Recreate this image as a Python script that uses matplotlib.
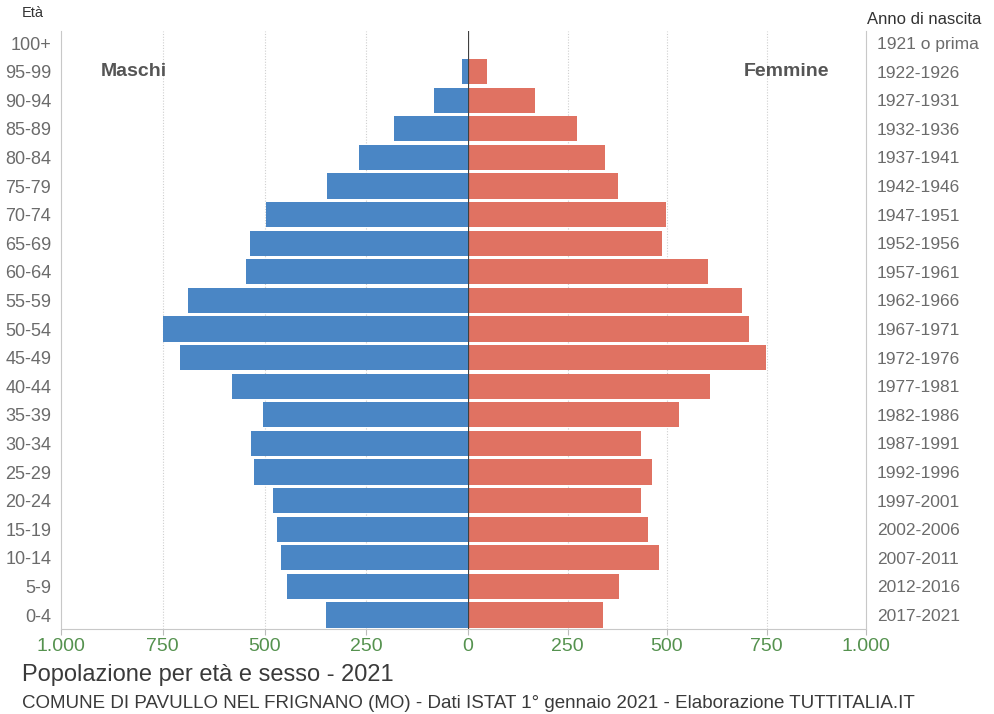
import matplotlib
matplotlib.use('Agg')
import matplotlib.pyplot as plt
from matplotlib.ticker import FixedLocator, FuncFormatter
import numpy as np

plt.rcParams['font.family'] = ['Liberation Sans', 'DejaVu Sans']

# ── Popolazione per classi di età (1° gennaio 2021) ─────────────────────────
eta = ['0-4', '5-9', '10-14', '15-19', '20-24', '25-29', '30-34', '35-39',
       '40-44', '45-49', '50-54', '55-59', '60-64', '65-69', '70-74',
       '75-79', '80-84', '85-89', '90-94', '95-99', '100+']
anno_nascita = ['2017-2021', '2012-2016', '2007-2011', '2002-2006',
                '1997-2001', '1992-1996', '1987-1991', '1982-1986',
                '1977-1981', '1972-1976', '1967-1971', '1962-1966',
                '1957-1961', '1952-1956', '1947-1951', '1942-1946',
                '1937-1941', '1932-1936', '1927-1931', '1922-1926',
                '1921 o prima']
maschi = [349, 445, 460, 469, 480, 527, 534, 504, 580, 707, 750,
          689, 545, 535, 497, 347, 268, 183, 83, 14, 0]
femmine = [338, 380, 480, 452, 435, 463, 434, 529, 608, 748, 707,
           688, 602, 487, 498, 377, 344, 275, 169, 47, 0]

BLUE = '#4a86c5'
RED = '#e07262'
GREEN = '#55924f'
GREY_TXT = '#6b6b6b'

fig = plt.figure(figsize=(9.94, 7.14), dpi=100)
W, H = 994, 714
x0, xm, x1 = 61, 468, 866
ybot, ytop = 628.5, 31
ax_m = fig.add_axes([x0 / W, 1 - ybot / H, (xm - x0) / W, (ybot - ytop) / H])
ax_f = fig.add_axes([xm / W, 1 - ybot / H, (x1 - xm) / W, (ybot - ytop) / H])

y = np.arange(len(eta))
ax_m.barh(y, maschi, height=0.88, color=BLUE, zorder=2)
ax_f.barh(y, femmine, height=0.88, color=RED, zorder=2)
ax_m.set_xlim(1000, 0)
ax_f.set_xlim(0, 1000)

fmt = FuncFormatter(lambda v, _: f'{int(v):,}'.replace(',', '.'))
for ax, ticks in ((ax_m, [1000, 750, 500, 250]), (ax_f, [0, 250, 500, 750, 1000])):
    ax.set_ylim(-0.47, len(eta) - 1 + 0.42)
    for v in (250, 500, 750):
        ax.axvline(v, color='#cfcfcf', linewidth=0.8,
                   linestyle=(0, (1, 1.5)), zorder=1)
    ax.xaxis.set_major_locator(FixedLocator(ticks))
    ax.xaxis.set_major_formatter(fmt)
    ax.tick_params(axis='x', colors='#bbbbbb', labelcolor=GREEN, labelsize=14,
                   length=4, width=0.8, pad=3)
    ax.set_facecolor('none')
    for s in ax.spines.values():
        s.set_color('#c8c8c8')
        s.set_linewidth(0.8)
    ax.spines['top'].set_visible(False)

ax_m.spines['right'].set_visible(False)
ax_f.spines['left'].set_visible(False)
ax_f.axvline(0, color='#404040', linewidth=1.6, zorder=3)

# age classes on the left, birth years on the right
ax_m.set_yticks(y)
ax_m.set_yticklabels(eta)
ax_m.tick_params(axis='y', length=0, labelsize=13, labelcolor=GREY_TXT, pad=7)
ax_f.set_yticks(y)
ax_f.set_yticklabels(anno_nascita)
ax_f.yaxis.tick_right()
ax_f.tick_params(axis='y', length=0, labelsize=12.5, labelcolor=GREY_TXT, pad=8)

ax_m.text(820, 19, 'Maschi', ha='center', va='center', fontsize=14,
          fontweight='bold', color='#555555')
ax_f.text(800, 19, 'Femmine', ha='center', va='center', fontsize=14,
          fontweight='bold', color='#555555')

fig.text(33 / W, 1 - 13 / H, 'Età', ha='center', va='center', fontsize=10.5,
         color='#333333')
fig.text(867 / W, 1 - 20 / H, 'Anno di nascita', ha='left', va='center',
         fontsize=12, color='#333333')

fig.text(22 / W, 1 - 675 / H, 'Popolazione per età e sesso - 2021', ha='left',
         va='center', fontsize=17, color='#3a3a3a')
fig.text(22 / W, 1 - 703 / H,
         'COMUNE DI PAVULLO NEL FRIGNANO (MO) - Dati ISTAT 1° gennaio 2021 '
         '- Elaborazione TUTTITALIA.IT',
         ha='left', va='center', fontsize=13.5, color='#3a3a3a')

fig.savefig('out.png', dpi=100, facecolor='white')
